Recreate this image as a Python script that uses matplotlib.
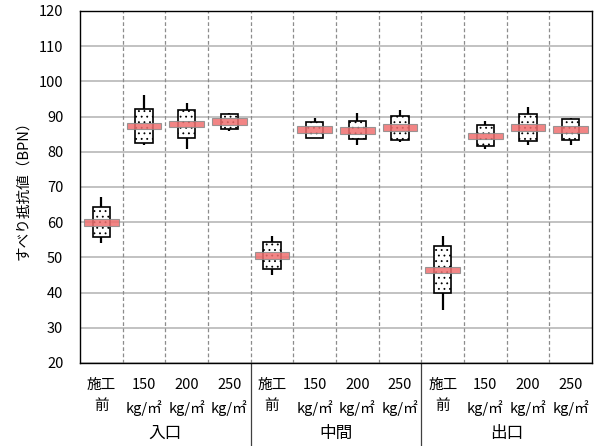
import matplotlib
matplotlib.use('Agg')
from matplotlib import pyplot as plt
import numpy as np

plt.rcParams['font.family'] = ['Noto Sans CJK JP', 'DejaVu Sans']
plt.rcParams['hatch.linewidth'] = 0.6

# categories
groups = ['入口', '中間', '出口']
cat_labels = ['施工\n前', '150\nkg/㎡', '200\nkg/㎡', '250\nkg/㎡'] * 3

# values (per category, 12 in total)
w_low = [54.0, 82.0, 80.9, 85.8, 45.1, 84.0, 82.0, 82.9, 35.1, 80.8, 82.0, 82.0]
q1 = [55.8, 82.5, 83.9, 86.5, 46.8, 84.0, 83.5, 83.4, 39.8, 81.7, 83.1, 83.4]
center = [60.0, 87.3, 87.9, 88.6, 50.6, 86.3, 86.1, 86.9, 46.4, 84.5, 86.9, 86.3]
q3 = [64.4, 92.2, 92.0, 90.8, 54.5, 88.5, 88.8, 90.2, 53.3, 87.6, 90.8, 89.2]
w_high = [67.1, 96.1, 93.8, 91.0, 56.2, 89.7, 90.9, 91.9, 56.2, 88.8, 92.8, 89.6]

fig = plt.figure(figsize=(5.98, 4.46), dpi=100)
ax = fig.add_axes([80/598, 1-363/446, 512/598, 352/446])

x = np.arange(len(cat_labels))
w_low = np.array(w_low); w_high = np.array(w_high)
q1 = np.array(q1); q3 = np.array(q3); center = np.array(center)

# grid
for yv in range(20, 121, 10):
    ax.axhline(yv, color='#bdbdbd', lw=1.3, zorder=0)
for xv in np.arange(0.5, 11.5, 1):
    ax.axvline(xv, color='#8c8c8c', lw=0.9, ls=(0, (3, 2)), zorder=0.5)

# whiskers, boxes, center bars
ax.vlines(x, w_low, w_high, color='black', lw=1.6, zorder=2)
ax.bar(x, q3 - q1, bottom=q1, width=0.4, facecolor='white', edgecolor='black',
       lw=1.2, hatch='...', zorder=3)
ax.bar(x, 1.9, bottom=center - 0.95, width=0.82, facecolor='#f07070', alpha=0.85,
       edgecolor='#8a8a8a', lw=0.8, zorder=4)

ax.set_xlim(-0.5, 11.5)
ax.set_ylim(20, 120)
ax.set_yticks(range(20, 121, 10))
ax.set_xticks(x)
ax.set_xticklabels(cat_labels, fontsize=10.5, linespacing=1.6)
ax.tick_params(axis='both', length=0, labelsize=10.5)
ax.tick_params(axis='x', pad=11)
ax.tick_params(axis='y', pad=12)
ax.set_ylabel('すべり抵抗値（BPN）', fontsize=10.5, labelpad=6)
for s in ax.spines.values():
    s.set_color('black')
    s.set_linewidth(1.0)

# group separators below the axes and group labels
for xv in [3.5, 7.5]:
    ax.plot([xv, xv], [0, -0.24], transform=ax.get_xaxis_transform(),
            color='#404040', lw=0.9, clip_on=False)
for i, g in enumerate(groups):
    ax.text(i*4 + 1.5, -0.2, g, transform=ax.get_xaxis_transform(),
            ha='center', va='center', fontsize=12)

fig.savefig('out.png', dpi=100)
